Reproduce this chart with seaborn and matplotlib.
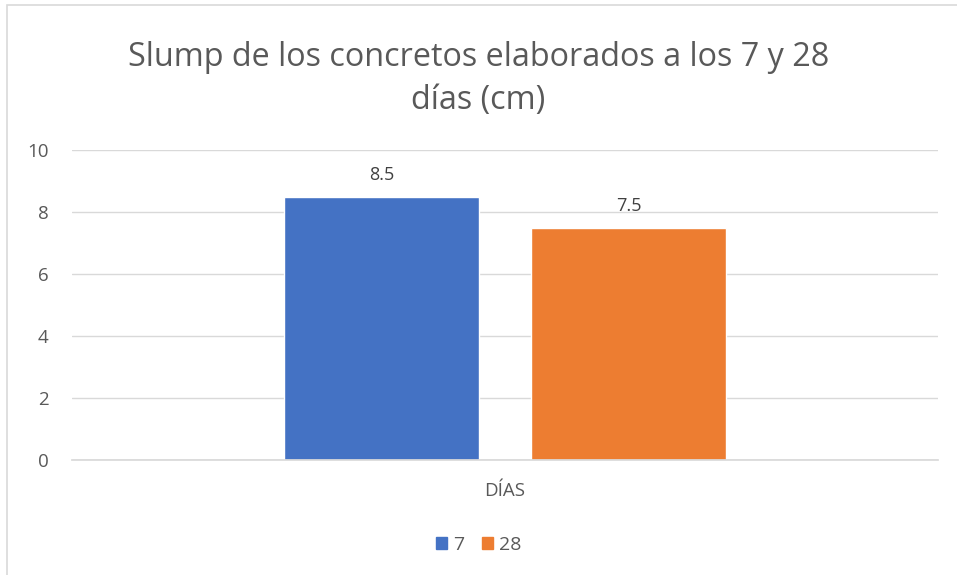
import matplotlib
matplotlib.use("Agg")
import matplotlib.pyplot as plt
import matplotlib.patches as mpatches
import seaborn as sns
import pandas as pd

# datos
categorias = ["DÍAS", "DÍAS"]
edades = ["7", "28"]
slump = [8.5, 7.5]
colores = ["#4472C4", "#ED7D31"]
yticks = [0, 2, 4, 6, 8, 10]

df = pd.DataFrame({"cat": categorias, "edad": edades, "slump": slump})

sns.set_theme(style="white")
plt.rcParams['font.family'] = ['Open Sans', 'DejaVu Sans']
gris = "#595959"

fig = plt.figure(figsize=(9.57, 5.75), dpi=100)
ax = fig.add_axes([72 / 957, 1 - 460 / 575, 866 / 957, 310 / 575])

sns.barplot(data=df, x="cat", y="slump", hue="edad", palette=colores,
            width=0.57, gap=0.21, ax=ax, legend=False, saturation=1)

for cont in ax.containers:
    ax.bar_label(cont, fmt="%.1f", padding=9, fontsize=13, color="#404040")

ax.set_ylim(0, 10)
ax.set_xlim(-0.5, 0.5)
ax.set_yticks(yticks)
ax.yaxis.grid(True, color="#d9d9d9", linewidth=1)
ax.set_axisbelow(True)
for s in ["top", "right", "left"]:
    ax.spines[s].set_visible(False)
ax.spines["bottom"].set_color("#d9d9d9")
ax.tick_params(axis="both", length=0, labelsize=13.5, colors=gris, pad=17)
ax.tick_params(axis="x", pad=16)
ax.set_xlabel("")
ax.set_ylabel("")

fig.text(0.5, 1 - 58 / 575, "Slump de los concretos elaborados a los 7 y 28",
         ha="center", va="center", fontsize=23.3, color=gris)
fig.text(0.5, 1 - 101 / 575, "días (cm)",
         ha="center", va="center", fontsize=23.3, color=gris)

handles = [mpatches.Patch(color=c, label=e) for c, e in zip(colores, edades)]
fig.legend(handles=handles, loc="center", bbox_to_anchor=(0.5, 1 - 545 / 575),
           ncol=2, frameon=False, fontsize=14, handlelength=0.6, handleheight=0.6,
           handletextpad=0.3, columnspacing=0.9, labelcolor=gris)

# borde del area del grafico
borde = mpatches.Rectangle((7 / 957, -0.05), 1.0, 1 - 5 / 575 + 0.05,
                           transform=fig.transFigure, fill=False,
                           edgecolor="#d9d9d9", linewidth=1.2, clip_on=False)
fig.patches.append(borde)

fig.savefig("out.png", dpi=100)
